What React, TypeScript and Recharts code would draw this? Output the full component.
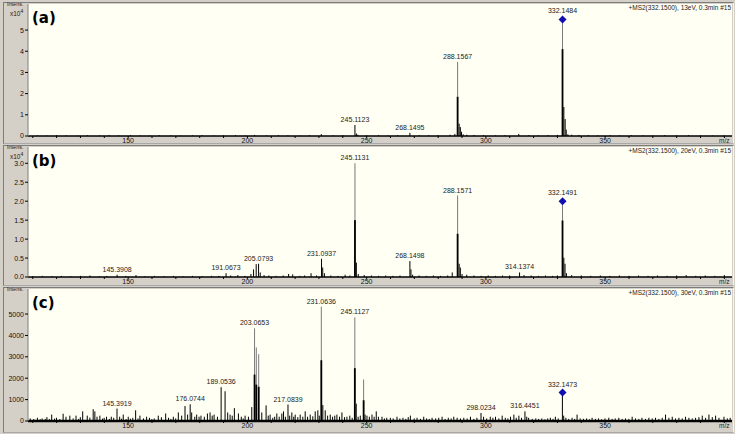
import React from 'react';
import { ComposedChart, Bar, Scatter, XAxis, YAxis, CartesianGrid, LabelList } from 'recharts';

// m/z axis
const mzDomain = [108, 403.2];
const mzTicks = [110, 120, 130, 140, 150, 160, 170, 180, 190, 200, 210, 220, 230, 240, 250, 260, 270, 280, 290, 300, 310, 320, 330, 340, 350, 360, 370, 380, 390, 400];
const mzLabelled = [150, 200, 250, 300, 350];

// panel (a) 13 eV, intensity x10^4 ; [m/z, intensity, dense part of profile peak]
const peaksA = [
  [112, 0.03], [116, 0.02], [120, 0.04], [124, 0.03], [129, 0.02], [133, 0.04], [138, 0.03], [142, 0.05],
  [146, 0.03], [151, 0.04], [155, 0.03], [159, 0.02], [163, 0.04], [168, 0.03], [172, 0.02], [177, 0.03],
  [181, 0.04], [186, 0.02], [190, 0.03], [195, 0.04], [199, 0.02], [203, 0.05], [208, 0.03], [213, 0.04],
  [217, 0.03], [222, 0.02], [226, 0.04], [231, 0.09], [236, 0.03], [240, 0.04], [245.1123, 0.52], [245.7, 0.12],
  [246.3, 0.06], [250, 0.03], [255, 0.04], [259, 0.03], [263, 0.04], [268.1495, 0.15], [272, 0.04], [276, 0.03],
  [280, 0.04], [285, 0.06], [287, 0.1], [288.1567, 3.5, 1.85], [288.8, 0.58], [289.3, 0.42], [289.8, 0.2],
  [290.5, 0.08], [292, 0.06], [295, 0.05], [299, 0.04], [304, 0.03], [308, 0.04], [313.8, 0.1], [318, 0.04],
  [322, 0.03], [326, 0.04], [330, 0.05], [332.1484, 5.5, 4.1], [332.7, 1.37], [333.25, 0.8], [333.7, 0.3],
  [334.4, 0.08], [336, 0.06], [339, 0.05], [343, 0.04], [347, 0.03], [352, 0.04], [356, 0.03], [361, 0.04],
  [366, 0.03], [370, 0.02], [375, 0.04], [380, 0.03], [385, 0.04], [390, 0.03], [395, 0.02], [400, 0.03],
];
const labelsA = [245.1123, 268.1495, 288.1567];
const precursorA = { mz: 332.1484, i: 5.5 };
const yTicksA = [0, 1, 2, 3, 4, 5];

// panel (b) 20 eV, intensity x10^4
const peaksB = [
  [110, 0.02], [114, 0.03], [118, 0.02], [122, 0.03], [126, 0.02], [130, 0.03], [134, 0.04], [138, 0.02],
  [141, 0.03], [145.3908, 0.06], [149, 0.03], [153.3, 0.05], [157, 0.02], [161, 0.03], [165, 0.02], [169, 0.03],
  [173, 0.02], [177, 0.03], [181, 0.02], [185, 0.03], [188, 0.03], [191.0673, 0.1], [193, 0.04], [196, 0.05],
  [199, 0.03], [201.5, 0.08], [202.6, 0.2], [203.7, 0.34], [204.7, 0.35], [205.4, 0.12], [207, 0.05], [209, 0.04],
  [212, 0.03], [215, 0.04], [217.3, 0.08], [219, 0.07], [222, 0.03], [224, 0.04], [226.7, 0.1], [229, 0.04],
  [231.0937, 0.48], [231.6, 0.25], [232.3, 0.1], [235, 0.04], [238, 0.03], [241, 0.06], [243, 0.04],
  [245.1131, 3.0, 1.5], [245.7, 0.38], [246.5, 0.08], [249, 0.05], [252, 0.04], [255, 0.03], [258, 0.04],
  [261, 0.03], [264, 0.04], [268.1498, 0.42], [268.6, 0.2], [269.3, 0.06], [272, 0.04], [275, 0.03], [278, 0.04],
  [281, 0.03], [284, 0.04], [285.9, 0.12], [288.1571, 2.15, 1.14], [288.8, 0.35], [289.3, 0.25], [290, 0.08],
  [292, 0.06], [295, 0.04], [298, 0.03], [301, 0.04], [304, 0.03], [307, 0.04], [310, 0.04], [314.1374, 0.12],
  [316, 0.05], [319, 0.04], [322, 0.03], [325, 0.04], [328, 0.03], [330, 0.04], [332.1491, 2.0, 1.49],
  [332.7, 0.51], [333.2, 0.35], [333.8, 0.1], [336, 0.05], [340, 0.04], [344, 0.03], [348, 0.04], [352, 0.03],
  [356, 0.04], [360, 0.03], [364, 0.04], [368, 0.03], [372, 0.04], [376, 0.03], [380, 0.04], [384, 0.05],
  [388, 0.03], [392, 0.04], [396, 0.03], [400, 0.05],
];
const labelsB = [145.3908, 191.0673, 204.7, 231.0937, 245.1131, 268.1498, 288.1571, 314.1374];
const labelTextB: Record<string, string> = { '204.7': '205.0793' };
const precursorB = { mz: 332.1491, i: 2.0 };
const yTicksB = [0, 0.5, 1.0, 1.5, 2.0, 2.5, 3.0];

// panel (c) 30 eV, intensity counts
const peaksC = [
  [109, 120], [110.5, 90], [112, 150], [113.2, 80], [114, 120], [115.3, 100], [116, 180], [117, 90], [118, 300],
  [119.2, 110], [120, 150], [121.4, 90], [122.8, 340], [124, 200], [125.6, 250], [127, 120], [128.2, 250],
  [129.3, 100], [130, 180], [131, 450], [132.9, 250], [134, 160], [135.4, 550], [136.1, 450], [137, 200],
  [138.2, 250], [139.3, 110], [140, 150], [141, 200], [142.2, 100], [143, 200], [144, 150], [145.3919, 580],
  [146.5, 200], [147.3, 110], [148, 300], [149.2, 90], [150.1, 200], [151, 110], [152, 150], [153.2, 500],
  [154.2, 120], [155, 250], [156.5, 120], [157.8, 200], [159, 150], [160, 90], [161, 120], [162.7, 250],
  [164, 180], [165.8, 350], [167, 150], [168, 100], [169, 200], [170, 120], [171.1, 400], [172.5, 250],
  [173.9, 700], [175, 300], [176.0744, 780], [176.7, 400], [178, 200], [178.8, 300], [179.8, 200], [180.6, 250],
  [182, 200], [183.3, 350], [184.4, 400], [185.3, 250], [186.1, 300], [187.5, 200], [189.0536, 1580],
  [190.7, 1390], [191.8, 400], [192.8, 300], [193.7, 250], [194.6, 600], [196.3, 350], [197.5, 200],
  [198.3, 120], [199.1, 250], [200.5, 200], [201.9, 650], [203.0653, 4330, 2170], [203.8, 3440, 1700],
  [204.8, 3125, 1600], [206.1, 400], [207.9, 730], [208.8, 250], [209.6, 300], [210.7, 150], [211.5, 200],
  [212.4, 350], [213.4, 200], [214.5, 350], [215.2, 450], [216, 200], [217.0839, 770], [217.8, 250],
  [218.7, 400], [219.5, 200], [220.1, 300], [221.2, 180], [222.2, 300], [223.3, 200], [224.3, 450],
  [225.3, 200], [226.4, 300], [227.5, 220], [228.5, 450], [229.6, 500], [230.2, 250], [231.0636, 5340, 2840],
  [231.7, 750], [232.7, 500], [233.7, 250], [234.8, 300], [235.8, 200], [236.7, 250], [237.6, 300],
  [238.7, 200], [239.7, 400], [240.8, 180], [241.8, 200], [243, 250], [244, 150], [245.1127, 4845, 2470],
  [245.7, 810], [246.5, 200], [247.4, 250], [248.8, 1940, 970], [249.4, 300], [250.2, 250], [251.2, 200],
  [252.3, 300], [253.2, 200], [254.1, 450], [255, 200], [256.5, 200], [257.5, 120], [258.5, 150], [260, 150],
  [261.2, 120], [262.8, 200], [264, 120], [265.3, 150], [266.5, 100], [267.5, 180], [268.4, 250], [270, 120],
  [271.2, 150], [272.6, 100], [274, 200], [275.2, 120], [276.3, 100], [277.5, 150], [279, 120], [280.3, 150],
  [281.7, 200], [283, 100], [284.3, 150], [285.5, 120], [286.6, 200], [288, 150], [289.4, 120], [290.8, 150],
  [292.2, 120], [293.6, 200], [295, 100], [296.3, 150], [298.0234, 375], [299.1, 200], [300.4, 120],
  [301.9, 200], [303, 150], [304.1, 200], [305.5, 120], [306.9, 250], [308.2, 150], [309.3, 120], [310.4, 200],
  [311.8, 300], [312.8, 150], [313.9, 250], [315, 150], [316.4451, 450], [317.2, 200], [318, 150], [319.5, 100],
  [321, 120], [322.2, 100], [323.5, 120], [324.8, 80], [326, 120], [327.1, 150], [328.2, 100], [329.2, 200],
  [330.4, 120], [332.1473, 1330], [332.7, 250], [333.6, 150], [334.8, 100], [336.2, 150], [337.3, 100],
  [338.3, 300], [339.6, 120], [341, 100], [342.3, 120], [343.5, 80], [344.6, 150], [346, 100], [347.3, 120],
  [348.6, 80], [350, 120], [351.6, 150], [353, 100], [354.3, 120], [355.8, 150], [357.2, 100], [358.6, 120],
  [360, 100], [361.4, 200], [362.8, 120], [364.2, 100], [365.5, 150], [367, 100], [368.4, 150], [369.8, 120],
  [371.2, 150], [372.6, 100], [374, 150], [375.4, 300], [376.8, 150], [378.2, 200], [379.6, 120], [381, 150],
  [382.4, 120], [383.8, 200], [385.2, 150], [386.6, 120], [388, 150], [389.4, 180], [390.8, 250], [392.2, 150],
  [393.6, 300], [395, 180], [396.4, 250], [397.8, 150], [399.9, 200], [401.3, 120], [402.5, 150],
];
const labelsC = [145.3919, 176.0744, 189.0536, 203.0653, 217.0839, 231.0636, 245.1127, 298.0234, 316.4451];
const precursorC = { mz: 332.1473, i: 1330 };
const yTicksC = [0, 1000, 2000, 3000, 4000, 5000];

const FONT = '"Liberation Sans", Arial, sans-serif';
const BG = '#d4d0c8';
const PLOT = '#fffff4';

const Stick = (props: any) => {
  const { x, y, width, height, payload } = props;
  if (!height || height <= 0) return null;
  const cx = x + width / 2;
  if (payload.core) {
    const h2 = (height * payload.core) / payload.i;
    return (
      <g>
        <line x1={cx} x2={cx} y1={y} y2={y + height} stroke="#7a7a7a" strokeWidth={1} />
        <rect x={cx - 0.9} y={y + height - h2} width={1.8} height={h2} fill="#000" />
      </g>
    );
  }
  return <line x1={cx} x2={cx} y1={y} y2={y + height} stroke="#000" strokeWidth={1} />;
};

const PeakLabel = (props: any) => {
  const { x, y, width, value } = props;
  if (value == null || value === '') return null;
  return (
    <text x={x + width / 2} y={y - 3} textAnchor="middle" fontSize={7} fontFamily={FONT} fill="#222">
      {value}
    </text>
  );
};

const Precursor = (props: any) => {
  const { cx, cy, payload } = props;
  return (
    <g>
      <polygon points={`${cx},${cy - 4} ${cx + 4},${cy} ${cx},${cy + 4} ${cx - 4},${cy}`} fill="#1010b0" />
      <text x={cx} y={cy - 6} textAnchor="middle" fontSize={7} fontFamily={FONT} fill="#222">
        {payload.mz.toFixed(4)}
      </text>
    </g>
  );
};

type PanelProps = {
  top: number;
  height: number;
  peaks: number[][];
  labels: number[];
  labelText?: Record<string, string>;
  precursor: { mz: number; i: number };
  yDomain: number[];
  yTicks: number[];
  yFmt: (v: number) => string;
  tag: string;
  scan: string;
  exp: boolean;
  frameTop: number;
  frameHeight: number;
  baseWidth: number;
};

const Panel = ({ top, height, peaks, labels, labelText, precursor, yDomain, yTicks, yFmt, tag, scan, exp, frameTop, frameHeight, baseWidth }: PanelProps) => {
  const rows = peaks.map(([mz, i, core]) => ({
    mz,
    i,
    core,
    label: labels.includes(mz) ? (labelText && labelText[String(mz)]) || mz.toFixed(4) : undefined,
  }));
  const plotTop = top + 4;
  const plotBottom = top + height - 10;
  return (
    <>
      <div
        style={{
          position: 'absolute', left: 3, top: frameTop, width: 731, height: frameHeight,
          boxSizing: 'border-box', borderTop: '1px solid #7c7c7c', borderLeft: '1px solid #7c7c7c',
          borderRight: '1px solid #f4f4f4', borderBottom: '1px solid #a8a8a8',
        }}
      />
      <div style={{ position: 'absolute', left: 0, top }}>
        <ComposedChart width={735} height={height} data={rows} margin={{ top: 4, right: 3, bottom: 0, left: 3 }}>
          <CartesianGrid horizontal={false} vertical={false} fill={PLOT} stroke="none" />
          <XAxis
            type="number"
            dataKey="mz"
            domain={mzDomain}
            allowDataOverflow
            ticks={mzTicks}
            interval={0}
            tickFormatter={(v: number) => (mzLabelled.includes(v) ? String(v) : '')}
            height={10}
            tickSize={2}
            tickMargin={0}
            tick={{ fontSize: 7, fill: '#111', fontFamily: FONT }}
            axisLine={{ stroke: '#000', strokeWidth: baseWidth }}
            tickLine={{ stroke: '#000' }}
          />
          <YAxis
            type="number"
            domain={yDomain}
            allowDataOverflow
            ticks={yTicks}
            interval={0}
            tickFormatter={yFmt}
            width={25}
            tickSize={3}
            tickMargin={1}
            tick={{ fontSize: 7, fill: '#111', fontFamily: FONT }}
            axisLine={{ stroke: '#808080' }}
            tickLine={{ stroke: '#000' }}
          />
          <Bar dataKey="i" barSize={1} shape={<Stick />} isAnimationActive={false}>
            <LabelList dataKey="label" content={<PeakLabel />} />
          </Bar>
          <Scatter data={[precursor]} dataKey="i" shape={<Precursor />} isAnimationActive={false} />
        </ComposedChart>
      </div>
      <div style={{ position: 'absolute', left: 7, top: plotTop - 2, fontSize: 5.5, color: '#222', lineHeight: 1 }}>Intens.</div>
      {exp && (
        <div style={{ position: 'absolute', left: 10, top: plotTop + 5, fontSize: 6.5, color: '#222', lineHeight: 1 }}>
          x10<sup style={{ fontSize: 5 }}>4</sup>
        </div>
      )}
      <div
        style={{
          position: 'absolute', left: 32, top: plotTop + 7, fontSize: 15, fontWeight: 'bold',
          fontFamily: '"DejaVu Sans", Verdana, sans-serif', lineHeight: 1, color: '#000',
        }}
      >
        {tag}
      </div>
      <div style={{ position: 'absolute', right: 4, top: plotTop + 1, fontSize: 6.5, color: '#222', lineHeight: 1 }}>{scan}</div>
      <div style={{ position: 'absolute', left: 719, top: plotBottom + 2, fontSize: 6.5, color: '#222', lineHeight: 1 }}>m/z</div>
    </>
  );
};

export default function App() {
  return (
    <div style={{ position: 'relative', width: 735, height: 434, background: BG, overflow: 'hidden', fontFamily: FONT }}>
      <style>{'body{margin:0}'}</style>
      <Panel
        top={0} height={146} frameTop={2} frameHeight={142} baseWidth={1.5}
        peaks={peaksA} labels={labelsA} precursor={precursorA}
        yDomain={[0, 6.23]} yTicks={yTicksA} yFmt={(v) => String(v)}
        tag="(a)" scan="+MS2(332.1500), 13eV, 0.3min #15" exp
      />
      <Panel
        top={143} height={144} frameTop={145} frameHeight={141} baseWidth={1.5}
        peaks={peaksB} labels={labelsB} labelText={labelTextB} precursor={precursorB}
        yDomain={[0, 3.43]} yTicks={yTicksB} yFmt={(v) => v.toFixed(1)}
        tag="(b)" scan="+MS2(332.1500), 20eV, 0.3min #15" exp
      />
      <Panel
        top={285} height={146} frameTop={287} frameHeight={146} baseWidth={2.5}
        peaks={peaksC} labels={labelsC} precursor={precursorC}
        yDomain={[0, 6170]} yTicks={yTicksC} yFmt={(v) => String(v)}
        tag="(c)" scan="+MS2(332.1500), 30eV, 0.3min #15" exp={false}
      />
    </div>
  );
}
